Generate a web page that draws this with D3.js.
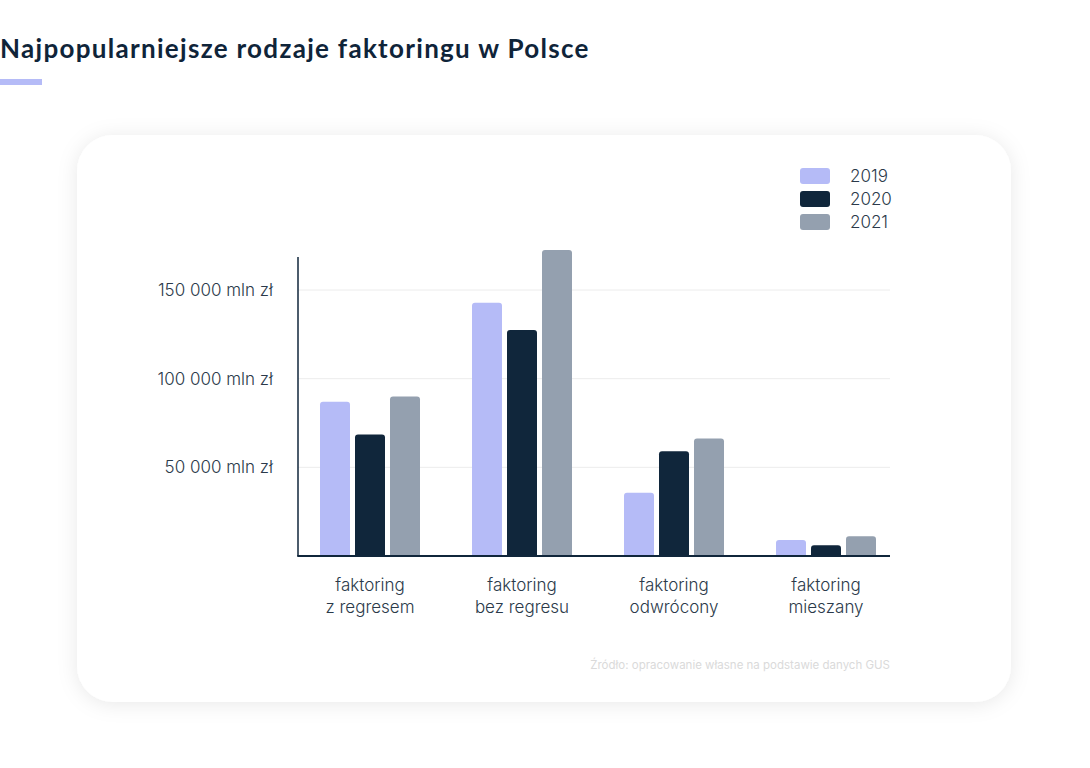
<!DOCTYPE html>
<html>
<head>
<meta charset="utf-8">
<script src="https://cdn.jsdelivr.net/npm/d3@7"></script>
<style>
  body { margin: 0; background: #fff; }
  svg { display: block; }
</style>
</head>
<body>
<div class="canvas"></div>
<script>
// dane (mln zł)
const categories = [['faktoring', 'z regresem'], ['faktoring', 'bez regresu'], ['faktoring', 'odwrócony'], ['faktoring', 'mieszany']]
const years = ['2019', '2020', '2021']
const values2019 = [87000, 142800, 35600, 9000]
const values2020 = [68500, 127500, 59000, 6000]
const values2021 = [90000, 172500, 66300, 11200]
const ticks = [50000, 100000, 150000]
const colors = ['#b5bbf7', '#10263b', '#94a0af']

const init = () => {
  const series = [values2019, values2020, values2021]
  const data = categories.map((c, i) => ({
    key: c.join(' '),
    label: c,
    bars: years.map((y, j) => ({year: y, value: series[j][i]}))
  }))

  const svg = d3.select('.canvas')
    .append('svg')
    .attr('width', 1090)
    .attr('height', 768)

  const defs = svg.append('defs')
  const filter = defs.append('filter')
    .attr('id', 'shadow')
    .attr('x', '-10%').attr('y', '-10%')
    .attr('width', '120%').attr('height', '120%')
  filter.append('feDropShadow')
    .attr('dx', 0).attr('dy', 2)
    .attr('stdDeviation', 10)
    .attr('flood-color', '#000')
    .attr('flood-opacity', 0.09)

  // tytuł
  svg.append('text')
    .attr('x', 0)
    .attr('y', 58)
    .attr('font-family', 'Lato, "Noto Sans", sans-serif')
    .attr('font-weight', 700)
    .attr('font-size', 26)
    .attr('letter-spacing', 1.3)
    .attr('fill', '#0f2439')
    .text('Najpopularniejsze rodzaje faktoringu w Polsce')
  svg.append('rect')
    .attr('x', 0).attr('y', 79)
    .attr('width', 42).attr('height', 6)
    .attr('fill', '#b5bbf7')

  // karta
  svg.append('rect')
    .attr('x', 77).attr('y', 135)
    .attr('width', 934).attr('height', 567)
    .attr('rx', 36)
    .attr('fill', '#fff')
    .attr('filter', 'url(#shadow)')

  const left = 298, right = 890, bottom = 556, axisTop = 257

  const x = d3.scaleBand()
    .domain(data.map(d => d.key))
    .range([294, 902])
  const xInner = d3.scaleBand()
    .domain(years)
    .range([0, 100])
    .paddingInner(5 / 35)
  const y = d3.scaleLinear()
    .domain([0, 150000])
    .range([bottom, 290])

  const font = 'Inter, "Noto Sans", sans-serif'

  // siatka
  const grid = svg.append('g')
  grid.selectAll('line')
    .data(ticks)
    .enter().append('line')
    .attr('x1', left).attr('x2', right)
    .attr('y1', d => y(d)).attr('y2', d => y(d))
    .attr('stroke', '#ececec')
    .attr('stroke-width', 1)

  const yAxis = svg.append('g')
    .attr('transform', `translate(${left - 25}, 0)`)
    .call(d3.axisLeft(y)
      .tickValues(ticks)
      .tickSize(0)
      .tickPadding(0)
      .tickFormat(d => d3.format(',')(d).replace(/,/g, ' ') + ' mln zł'))
  yAxis.select('.domain').remove()
  yAxis.selectAll('text')
    .attr('font-family', font)
    .attr('font-weight', 300)
    .attr('font-size', 17)
    .attr('fill', '#2b3a4a')
    .attr('dy', '0.32em')

  // słupki
  const barPath = (x0, y0, w, h, r) => {
    r = Math.min(r, h)
    return `M${x0},${y0 + h}V${y0 + r}Q${x0},${y0} ${x0 + r},${y0}H${x0 + w - r}Q${x0 + w},${y0} ${x0 + w},${y0 + r}V${y0 + h}Z`
  }
  const groups = svg.append('g').selectAll('g')
    .data(data)
    .enter().append('g')
    .attr('transform', d => `translate(${x(d.key) + x.bandwidth() / 2 - 50}, 0)`)
  groups.selectAll('path')
    .data(d => d.bars)
    .enter().append('path')
    .attr('d', d => barPath(xInner(d.year), y(d.value), xInner.bandwidth(), bottom - y(d.value), 3))
    .attr('fill', (d, i) => colors[i])

  // osie
  svg.append('line')
    .attr('x1', left).attr('x2', left)
    .attr('y1', axisTop).attr('y2', bottom)
    .attr('stroke', '#10263b').attr('stroke-width', 1.5)
  svg.append('line')
    .attr('x1', left - 0.75).attr('x2', right)
    .attr('y1', bottom).attr('y2', bottom)
    .attr('stroke', '#10263b').attr('stroke-width', 2)

  // etykiety kategorii
  const labels = svg.append('g').selectAll('text')
    .data(data)
    .enter().append('text')
    .attr('x', d => x(d.key) + x.bandwidth() / 2)
    .attr('y', 591)
    .attr('text-anchor', 'middle')
    .attr('font-family', font)
    .attr('font-weight', 300)
    .attr('font-size', 17)
    .attr('fill', '#2b3a4a')
  labels.selectAll('tspan')
    .data(d => d.label)
    .enter().append('tspan')
    .attr('x', function() { return d3.select(this.parentNode).attr('x') })
    .attr('dy', (d, i) => i === 0 ? 0 : 22)
    .text(d => d)

  // legenda
  const legend = svg.append('g').selectAll('g')
    .data(years)
    .enter().append('g')
    .attr('transform', (d, i) => `translate(800, ${168 + i * 23})`)
  legend.append('rect')
    .attr('width', 30).attr('height', 16)
    .attr('rx', 3)
    .attr('fill', (d, i) => colors[i])
  legend.append('text')
    .attr('x', 50).attr('y', 8)
    .attr('dy', '0.35em')
    .attr('font-family', font)
    .attr('font-weight', 300)
    .attr('font-size', 17)
    .attr('fill', '#2b3a4a')
    .text(d => d)

  // źródło
  svg.append('text')
    .attr('x', 890).attr('y', 669)
    .attr('text-anchor', 'end')
    .attr('font-family', font)
    .attr('font-size', 11.5)
    .attr('fill', '#dadada')
    .text('Źródło: opracowanie własne na podstawie danych GUS')
}

init()
</script>
</body>
</html>
